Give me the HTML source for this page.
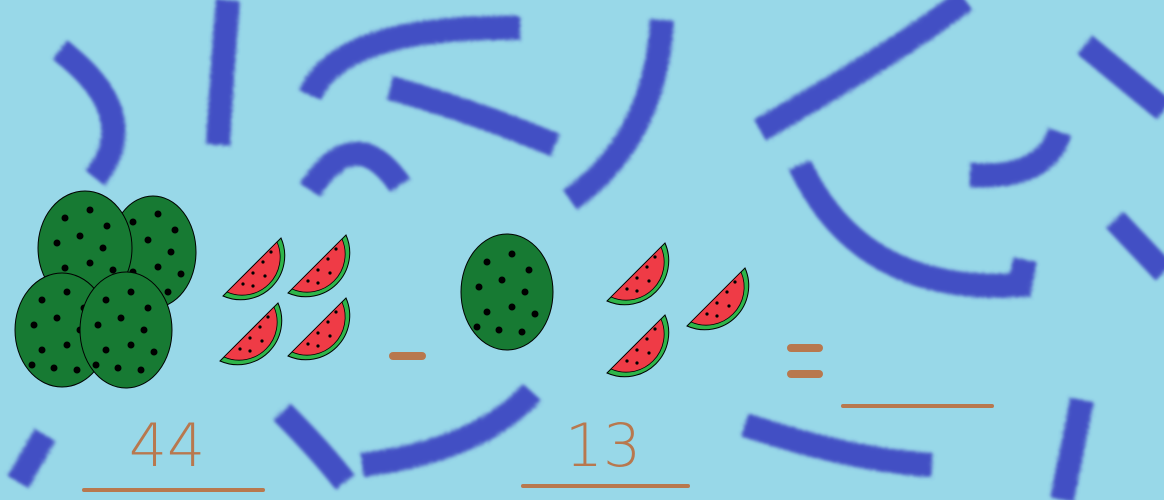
<!DOCTYPE html>
<html><head><meta charset="utf-8"><style>
html,body{margin:0;padding:0;width:1164px;height:500px;overflow:hidden;background:#98d8e8}
svg{display:block}
</style></head><body>
<svg width="1164" height="500" viewBox="0 0 1164 500">
<defs>
<filter id="fz" x="-10%" y="-10%" width="120%" height="120%">
<feTurbulence type="fractalNoise" baseFrequency="0.7" numOctaves="2" result="n"/>
<feDisplacementMap in="SourceGraphic" in2="n" scale="8"/>
<feGaussianBlur stdDeviation="1.6"/>
</filter>
<g id="slice">
<path d="M0,58 L58,0 A44 44 0 0 1 0,58 Z" fill="#2fb54a" stroke="#000" stroke-width="1"/>
<path d="M4,54 L54,4 A38 38 0 0 1 4,54 Z" fill="#ef3b46" stroke="#000" stroke-width="0.8"/>
<g fill="#000"><circle cx="30" cy="35" r="1.6"/><circle cx="40" cy="24" r="1.6"/><circle cx="20" cy="46" r="1.6"/><circle cx="42" cy="38" r="1.6"/><circle cx="48" cy="14" r="1.6"/><circle cx="30" cy="48" r="1.6"/></g>
</g>
<g id="seeds" fill="#000">
<circle cx="-20" cy="-30" r="3"/><circle cx="5" cy="-38" r="3"/><circle cx="22" cy="-22" r="3"/><circle cx="-28" cy="-5" r="3"/><circle cx="-5" cy="-12" r="3"/><circle cx="18" cy="0" r="3"/><circle cx="-20" cy="20" r="3"/><circle cx="5" cy="15" r="3"/><circle cx="28" cy="22" r="3"/><circle cx="-8" cy="38" r="3"/><circle cx="15" cy="40" r="3"/><circle cx="-30" cy="35" r="3"/>
</g>
</defs>
<g fill="none" stroke="#4350c4" stroke-width="24" stroke-linecap="butt" filter="url(#fz)">
<path d="M60,50 Q145,115 95,178"/>
<path d="M228,0 Q222,70 218,145"/>
<path d="M310,95 Q340,25 520,28"/>
<path d="M390,88 Q470,110 555,145"/>
<path d="M310,190 Q355,120 400,185"/>
<path d="M662,20 Q655,140 570,200"/>
<path d="M760,130 Q900,50 965,0"/>
<path d="M1085,45 L1164,110"/>
<path d="M970,175 Q1045,180 1060,132"/>
<path d="M800,165 Q860,295 1020,285 L1025,260"/>
<path d="M1115,220 L1164,272"/>
<path d="M18,482 L45,435"/>
<path d="M282,412 Q320,450 345,482"/>
<path d="M362,465 Q480,450 532,392"/>
<path d="M745,425 Q850,460 932,465"/>
<path d="M1082,400 L1062,500"/>
</g>
<g stroke="#000" stroke-width="1" fill="#177a33">
<g transform="translate(153,252)"><ellipse rx="43" ry="56"/><use href="#seeds"/></g>
<g transform="translate(85,248)"><ellipse rx="47" ry="57"/><use href="#seeds"/></g>
<g transform="translate(62,330)"><ellipse rx="47" ry="57"/><use href="#seeds"/></g>
<g transform="translate(126,330)"><ellipse rx="46" ry="58"/><use href="#seeds"/></g>
</g>
<g stroke="#000" stroke-width="1" fill="#177a33">
<g transform="translate(507,292)"><ellipse rx="46" ry="58"/><use href="#seeds"/></g>
</g>
<g>
<use href="#slice" x="223" y="238"/><use href="#slice" x="288" y="235"/>
<use href="#slice" x="220" y="303"/><use href="#slice" x="288" y="298"/>
<use href="#slice" x="607" y="243"/><use href="#slice" x="687" y="268"/>
<use href="#slice" x="607" y="315"/>
</g>
<g stroke="#b8784e" stroke-linecap="round" fill="none">
<line x1="393" y1="356" x2="422" y2="356" stroke-width="8"/>
<line x1="791" y1="348" x2="819" y2="348" stroke-width="8"/>
<line x1="791" y1="374" x2="819" y2="374" stroke-width="8"/>
<line x1="843" y1="406" x2="992" y2="406" stroke-width="4"/>
<line x1="84" y1="490" x2="263" y2="490" stroke-width="4"/>
<line x1="523" y1="486" x2="688" y2="486" stroke-width="4"/>
</g>
<text x="167" y="466" font-family="DejaVu Sans, sans-serif" font-weight="300" font-size="60" fill="#b8784e" text-anchor="middle">44</text>
<text x="603" y="466" font-family="DejaVu Sans, sans-serif" font-weight="300" font-size="60" fill="#b8784e" text-anchor="middle">13</text>
</svg>
</body></html>
